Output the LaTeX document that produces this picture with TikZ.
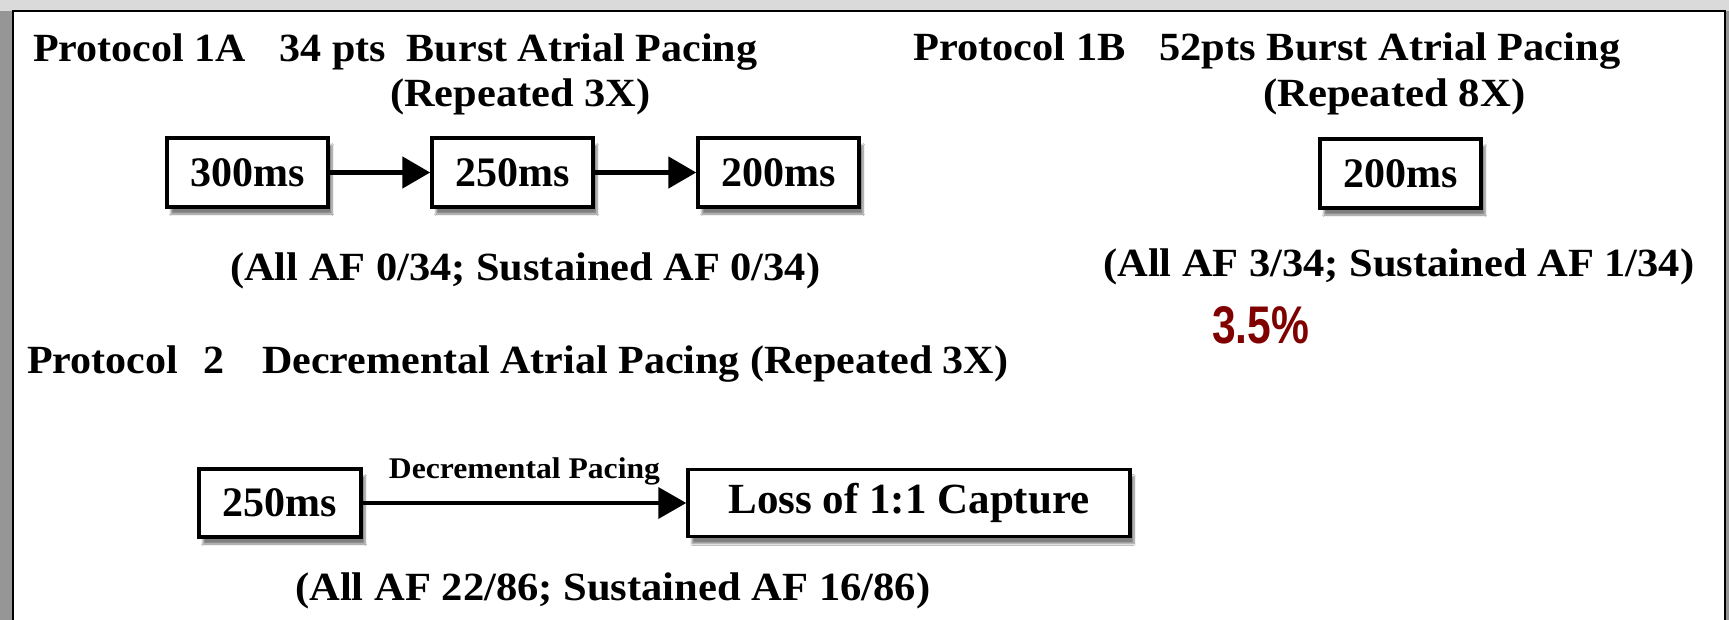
\documentclass[tikz,border=0pt]{standalone}
\usepackage{fontspec}
\setmainfont{Liberation Serif}
\newfontfamily\percentFont{Liberation Sans}
\usetikzlibrary{positioning,arrows.meta,shadows.blur}
\definecolor{frameGray}{RGB}{150,150,150}
\definecolor{bandGray}{RGB}{218,218,218}
\definecolor{percentRed}{RGB}{128,0,0}
\tikzstyle{pacingBox} = [draw=black, fill=white, line width=3.5pt, inner sep=0pt, minimum width=161pt, minimum height=69pt, font=\fontsize{42}{50}\selectfont\bfseries, blur shadow={shadow xshift=4pt, shadow yshift=-7pt, shadow blur steps=8, shadow opacity=50}]
\tikzstyle{pacingArrow} = [line width=5pt, -{Triangle[length=28pt, width=31pt]}]
\tikzstyle{headText} = [inner sep=0pt, anchor=base west, font=\fontsize{40}{48}\selectfont\bfseries]
\tikzstyle{labelText} = [inner sep=0pt, font=\fontsize{30}{34}\selectfont\bfseries]
\tikzstyle{percentText} = [inner sep=0pt, anchor=base west, text=percentRed, font=\fontsize{53}{60}\selectfont\percentFont\bfseries]
\newcommand{\fitText}[2]{\resizebox{#1pt}{\height}{#2}}
\begin{document}
\begin{tikzpicture}[x=1pt, y=-1pt]
  \useasboundingbox (0,0) rectangle (1729,620);
  \fill[frameGray] (0,0) rectangle (1729,620);
  \fill[bandGray] (0,0) rectangle (1729,11);
  \fill[white] (13,11) rectangle (1725,625);
  \draw[line width=2.5pt] (13,625) -- (13,11) -- (1725,11) -- (1725,625);

  \node[headText] (titleOneA) at (33,62) {\fitText{724}{Protocol 1A\hspace{0.8em}34 pts\hspace{0.5em}Burst Atrial Pacing}};
  \node[headText] (repeatOneA) at (390,107) {\fitText{260}{(Repeated 3X)}};
  \node[pacingBox] (boxThreeHundred) at (247.5,172.5) {300ms};
  \node[pacingBox] (boxTwoFifty) at (512.5,172.5) {250ms};
  \node[pacingBox] (boxTwoHundred) at (778.5,172.5) {200ms};
  \draw[pacingArrow] (boxThreeHundred) -- (boxTwoFifty);
  \draw[pacingArrow] (boxTwoFifty) -- (boxTwoHundred);
  \node[headText] (afOneA) at (230,281) {\fitText{590}{(All AF 0/34; Sustained AF 0/34)}};

  \node[headText] (titleOneB) at (913,61) {\fitText{707}{Protocol 1B\hspace{0.8em}52pts Burst Atrial Pacing}};
  \node[headText] (repeatOneB) at (1263,107) {\fitText{262}{(Repeated 8X)}};
  \node[pacingBox] (boxOneB) at (1400.5,173.5) {200ms};
  \node[headText] (afOneB) at (1103,277) {\fitText{591}{(All AF 3/34; Sustained AF 1/34)}};
  \node[percentText] (percentOneB) at (1212,343) {\fitText{97}{3.5\%}};

  \node[headText] (titleTwo) at (27,373) {\fitText{981}{Protocol\hspace{0.6em}2\hspace{0.9em}Decremental Atrial Pacing (Repeated 3X)}};
  \node[pacingBox, minimum width=162pt, minimum height=68pt] (boxStart) at (280,503) {250ms};
  \node[pacingBox, minimum width=442pt, minimum height=67pt, font=\fontsize{43}{50}\selectfont\bfseries] (boxLoss) at (909,503) {Loss of 1:1 Capture};
  \draw[pacingArrow, line width=4pt] (boxStart) -- node[labelText, midway, above=16pt] (decLabel) {\fitText{271}{Decremental Pacing}} (boxLoss);
  \node[headText] (afTwo) at (295,600) {\fitText{635}{(All AF 22/86; Sustained AF 16/86)}};
\end{tikzpicture}
\end{document}
